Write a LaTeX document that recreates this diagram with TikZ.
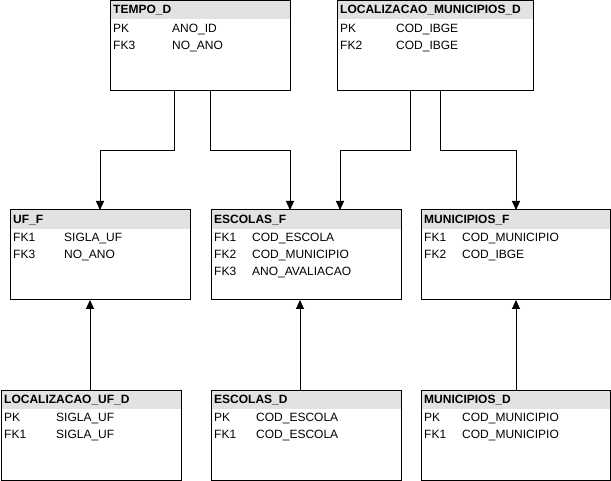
\documentclass[tikz,border=0pt]{standalone}
\usepackage{fontspec}
\setmainfont{Liberation Sans}
\usetikzlibrary{arrows.meta}
\definecolor{hdrfill}{RGB}{226,226,226}
\newcommand\ertab[6]{%
  \node[tbl,minimum width=#3pt] (#1) at (#2) {};
  \node[hdr] at ([shift={(3pt,-10pt)}]#1.north west) {#4};
  \foreach \fa/\fb [count=\ii from 0] in {#6} {%
    \node[fld] at ([shift={(3pt,{-(28.5+17*\ii)*1pt})}]#1.north west) {\fa};
    \node[fld] at ([shift={(#5pt,{-(28.5+17*\ii)*1pt})}]#1.north west) {\fb};
  }%
}
\begin{document}
\begin{tikzpicture}[x=1pt,y=-1pt,
  tbl/.style={draw=black,line width=1pt,minimum height=90pt,anchor=north west,inner sep=0pt,outer sep=0pt,
    path picture={\fill[hdrfill] (path picture bounding box.north west) rectangle ([yshift=-19pt]path picture bounding box.north east);}},
  hdr/.style={font=\bfseries\fontsize{12}{14}\selectfont,anchor=west,inner sep=0pt,text height=8.6pt,text depth=2.2pt},
  fld/.style={font=\fontsize{12}{14}\selectfont,anchor=west,inner sep=0pt,text height=8.6pt,text depth=2.2pt},
  conn/.style={draw=black,line width=1pt,-{Triangle[width=8pt,length=9pt]}}]
\useasboundingbox[fill=white] (0,0) rectangle (611,481);
\ertab{tempo}{110,0.5}{180}{TEMPO\_D}{62}{PK/ANO\_ID,FK3/NO\_ANO}
\ertab{locmun}{337,0.5}{196}{LOCALIZACAO\_MUNICIPIOS\_D}{59}{PK/COD\_IBGE,FK2/COD\_IBGE}
\ertab{uff}{10,210}{180}{UF\_F}{54}{FK1/SIGLA\_UF,FK3/NO\_ANO}
\ertab{escf}{211,210}{190}{ESCOLAS\_F}{41}{FK1/COD\_ESCOLA,FK2/COD\_MUNICIPIO,FK3/ANO\_AVALIACAO}
\ertab{munf}{421,210}{189}{MUNICIPIOS\_F}{41}{FK1/COD\_MUNICIPIO,FK2/COD\_IBGE}
\ertab{locufd}{1,390}{180}{LOCALIZACAO\_UF\_D}{55}{PK/SIGLA\_UF,FK1/SIGLA\_UF}
\ertab{escd}{211,390}{190}{ESCOLAS\_D}{45}{PK/COD\_ESCOLA,FK1/COD\_ESCOLA}
\ertab{mund}{421,390}{189}{MUNICIPIOS\_D}{41}{PK/COD\_MUNICIPIO,FK1/COD\_MUNICIPIO}
\draw[conn] ([xshift=64pt]tempo.south west) -- ++(0,-60pt) -| ([xshift=90pt]uff.north west);
\draw[conn] ([xshift=100pt]tempo.south west) -- ++(0,-60pt) -| ([xshift=79pt]escf.north west);
\draw[conn] ([xshift=73pt]locmun.south west) -- ++(0,-60pt) -| ([xshift=129pt]escf.north west);
\draw[conn] ([xshift=103pt]locmun.south west) -- ++(0,-60pt) -| ([xshift=95pt]munf.north west);
\draw[conn] ([xshift=89pt]locufd.north west) -- ([xshift=80pt]uff.south west);
\draw[conn] ([xshift=89pt]escd.north west) -- ([xshift=89pt]escf.south west);
\draw[conn] ([xshift=95pt]mund.north west) -- ([xshift=95pt]munf.south west);
\end{tikzpicture}
\end{document}
